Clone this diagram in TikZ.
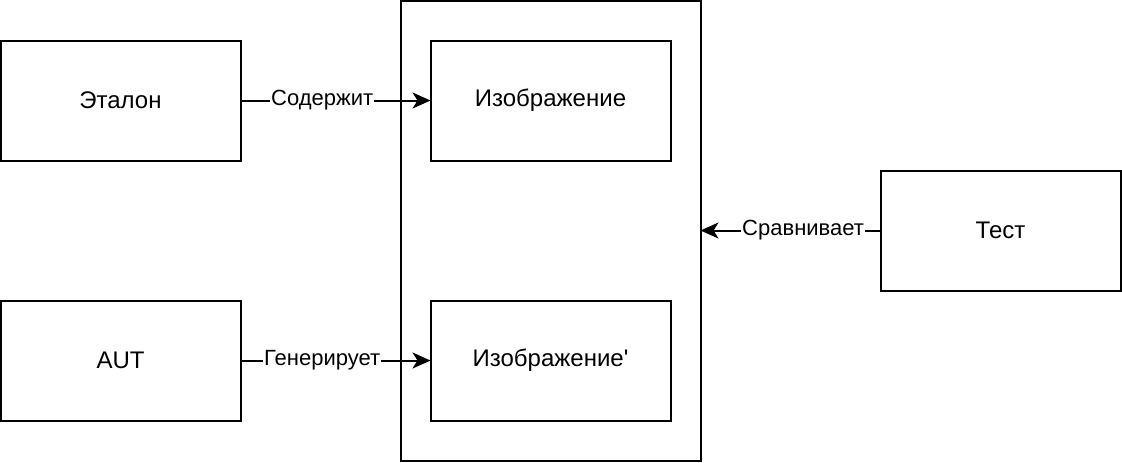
\documentclass[tikz,border=0pt]{standalone}
\usepackage{fontspec}
\setmainfont{Liberation Sans}
\usetikzlibrary{arrows.meta}

\begin{document}
\begin{tikzpicture}[x=0.5pt, y=-0.5pt,
    box/.style={draw, line width=1pt, minimum width=120pt, minimum height=60pt,
                inner sep=0pt, outer sep=0pt, font=\fontsize{12}{14}\selectfont},
    lbl/.style={fill=white, inner sep=0.5pt, pos=0.43, font=\fontsize{11}{13}\selectfont},
    link/.style={line width=1pt, -{Stealth[length=9pt, width=8pt, inset=2.5pt]}}]
    \useasboundingbox (0,0) rectangle (1122,462);

    % container around both images
    \node[draw, line width=1pt, minimum width=150pt, minimum height=230pt,
          inner sep=0pt, outer sep=0pt] (frame) at (550.5,231) {};

    % left column
    \node[box] (etalon) at (120.5,100.5) {Эталон};
    \node[box] (aut) at (120.5,360.5) {AUT};

    % images inside the container
    \node[box] (img) at (550.5,100.5) {Изображение};
    \node[box] (imgp) at (550.5,360.5) {Изображение\textquotesingle};

    % test on the right
    \node[box] (test) at (1000.5,230.5) {Тест};

    % connectors
    \draw[link] (etalon) -- node[lbl] {Содержит} (img);
    \draw[link] (aut) -- node[lbl] {Генерирует} (imgp);
    \draw[link] (test) -- node[lbl] {Сравнивает} (frame.east |- test);
\end{tikzpicture}
\end{document}
